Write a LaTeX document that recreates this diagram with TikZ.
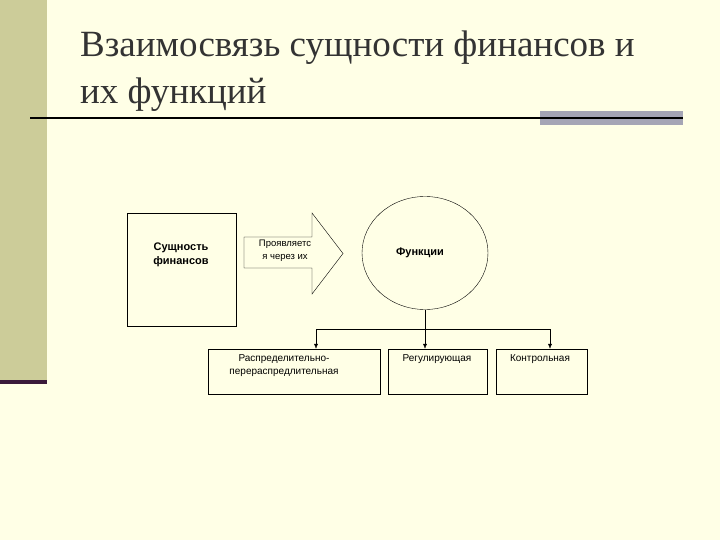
\documentclass[tikz,border=0pt]{standalone}
\usepackage{fontspec}
\setmainfont{Liberation Sans}
\newfontfamily\titlefont{Liberation Serif}
\usetikzlibrary{shapes.geometric,arrows.meta}
\definecolor{bg}{HTML}{FFFFE6}
\definecolor{band}{HTML}{CCCC99}
\definecolor{bar}{HTML}{A5A5B5}
\definecolor{purp}{HTML}{3A1A3A}
\tikzset{
  box/.style={draw,thin,fill=bg,inner sep=0pt},
  lbl/.style={font=\fontsize{10}{12}\selectfont,align=center},
  conn/.style={thin,-{Latex[length=5pt,width=4pt]}}
}
\begin{document}
\begin{tikzpicture}[x=1pt,y=-1pt]
\fill[bg] (0,0) rectangle (720,540);
\useasboundingbox (0,0) rectangle (720,540);
\fill[band] (0,0) rectangle (47,380);
\fill[purp] (0,380) rectangle (47,384);
\fill[bar] (540,111) rectangle (683,125);
\draw[line width=1.5pt] (30,118) -- (683,118);
\node[anchor=base west,font=\titlefont\fontsize{37}{44}\selectfont,text=black!80,inner sep=0] (t1) at (80,57) {Взаимосвязь сущности финансов и};
\node[anchor=base west,font=\titlefont\fontsize{37}{44}\selectfont,text=black!80,inner sep=0] (t2) at (80,104) {их функций};
\node[box,minimum width=109pt,minimum height=113pt] (s) at (181.5,269.5) {};
\node[lbl,font=\bfseries\fontsize{11}{14}\selectfont] (st) at (181,255) {Сущность\\финансов};
\draw[fill=bg,thin] (244,237) -- (312,237) -- (312,213) -- (343,253.5) -- (312,294) -- (312,268) -- (244,268) -- cycle;
\node[lbl,font=\fontsize{9.5}{13}\selectfont] (at) at (285,251) {Проявляетс\\я через их};
\node[draw,thin,ellipse,fill=bg,minimum width=126pt,minimum height=113pt,inner sep=0] (f) at (425,253) {};
\node[font=\bfseries\fontsize{11}{14}\selectfont] (ft) at (420,253) {Функции};
\node[box,minimum width=172pt,minimum height=45pt] (a) at (294,371.5) {};
\node[box,minimum width=99pt,minimum height=45pt] (b) at (437.5,371.5) {};
\node[box,minimum width=91pt,minimum height=45pt] (c) at (541.5,371.5) {};
\node[lbl,font=\fontsize{10}{13}\selectfont,anchor=north] (at2) at (284,351) {Распределительно-\\перераспредлительная};
\node[lbl,font=\fontsize{10}{13}\selectfont,anchor=north] (bt) at (437,351) {Регулирующая};
\node[lbl,font=\fontsize{10}{13}\selectfont,anchor=north] (ct) at (540,351) {Контрольная};
\coordinate (jl) at (316,329);
\coordinate (jr) at (550,329);
\draw[thin] (jl) -- (jr);
\draw[conn] (f.south) -- (f.south |- b.north);
\draw[conn] (jl) -- (jl |- a.north);
\draw[conn] (jr) -- (jr |- c.north);
\end{tikzpicture}
\end{document}
